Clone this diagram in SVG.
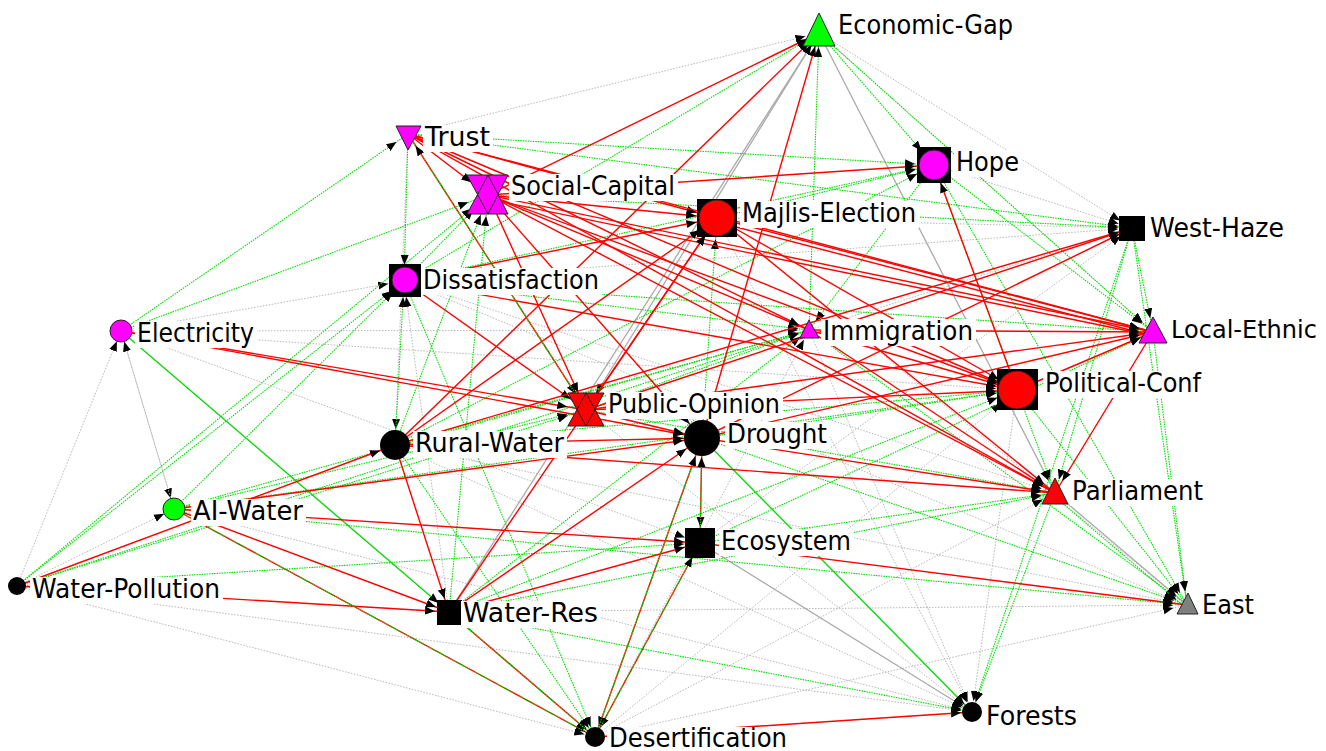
<svg xmlns="http://www.w3.org/2000/svg" width="1326" height="751" viewBox="0 0 1326 751">
<style>
.r{stroke:#f00;stroke-width:1.4;fill:none}
.g{stroke:#00e000;stroke-width:1.1;stroke-dasharray:1.5 1;fill:none}
.k{stroke:#b9b9b9;stroke-width:1;stroke-dasharray:1.5 1.5;fill:none}
.gs{stroke:#10d810;stroke-width:1.4;fill:none}
.ks{stroke:#aaa;stroke-width:1.3;fill:none}
.a10{marker-end:url(#a10)}.a13{marker-end:url(#a13)}.a15{marker-end:url(#a15)}.a18{marker-end:url(#a18)}.a20{marker-end:url(#a20)}
.sh{stroke:#222;stroke-width:1}
.ol{stroke:#222;stroke-width:1;fill:none}
.lb{fill:#fff}
text{font-family:"DejaVu Sans","Liberation Sans",sans-serif;font-size:26px;fill:#000}
</style>
<defs>
<marker id="a10" markerUnits="userSpaceOnUse" markerWidth="21" markerHeight="10" viewBox="0 0 21 10" refX="21" refY="5" orient="auto"><path d="M0,1 L10,5 L0,9z"/></marker>
<marker id="a13" markerUnits="userSpaceOnUse" markerWidth="24" markerHeight="10" viewBox="0 0 24 10" refX="24" refY="5" orient="auto"><path d="M0,1 L10,5 L0,9z"/></marker>
<marker id="a15" markerUnits="userSpaceOnUse" markerWidth="26" markerHeight="10" viewBox="0 0 26 10" refX="26" refY="5" orient="auto"><path d="M0,1 L10,5 L0,9z"/></marker>
<marker id="a18" markerUnits="userSpaceOnUse" markerWidth="29" markerHeight="10" viewBox="0 0 29 10" refX="29" refY="5" orient="auto"><path d="M0,1 L10,5 L0,9z"/></marker>
<marker id="a20" markerUnits="userSpaceOnUse" markerWidth="31" markerHeight="10" viewBox="0 0 31 10" refX="31" refY="5" orient="auto"><path d="M0,1 L10,5 L0,9z"/></marker>
</defs>
<rect width="1326" height="751" fill="#fff"/>
<g id="edges">
<line class="k a13" x1="408" y1="134" x2="819" y2="33"/>
<line class="k a13" x1="819" y1="33" x2="1132" y2="228"/>
<line class="k a13" x1="404" y1="281" x2="1132" y2="228"/>
<line class="k a15" x1="121" y1="331" x2="404" y2="281"/>
<line class="k a10" x1="121" y1="331" x2="809" y2="330"/>
<line class="k a15" x1="121" y1="331" x2="700" y2="543"/>
<line class="k a10" x1="121" y1="331" x2="174" y2="509"/>
<line class="k a10" x1="174" y1="509" x2="121" y2="331"/>
<line class="k a10" x1="17" y1="586" x2="121" y2="331"/>
<line class="k a10" x1="17" y1="586" x2="174" y2="509"/>
<line class="k a10" x1="17" y1="586" x2="595" y2="737"/>
<line class="k a10" x1="17" y1="586" x2="972" y2="712"/>
<line class="k a13" x1="595" y1="737" x2="1187" y2="605"/>
<line class="k a13" x1="595" y1="737" x2="1055" y2="493"/>
<line class="k a10" x1="395" y1="445" x2="972" y2="712"/>
<line class="k a13" x1="395" y1="445" x2="1187" y2="605"/>
<line class="k a13" x1="449" y1="612" x2="1187" y2="605"/>
<line class="k a10" x1="717" y1="218" x2="972" y2="712"/>
<line class="k a10" x1="586" y1="410" x2="972" y2="712"/>
<line class="k a10" x1="809" y1="330" x2="972" y2="712"/>
<line class="k a13" x1="717" y1="218" x2="1132" y2="228"/>
<line class="k a13" x1="809" y1="330" x2="1132" y2="228"/>
<line class="k a13" x1="404" y1="281" x2="1187" y2="605"/>
<line class="k a13" x1="700" y1="543" x2="1132" y2="228"/>
<line class="k a15" x1="408" y1="134" x2="395" y2="445"/>
<line class="k a13" x1="717" y1="218" x2="1187" y2="605"/>
<line class="k a13" x1="404" y1="281" x2="1055" y2="493"/>
<line class="k a20" x1="121" y1="331" x2="1017" y2="390"/>
<line class="k a13" x1="934" y1="165" x2="1132" y2="228"/>
<line class="k a10" x1="121" y1="331" x2="595" y2="737"/>
<line class="k a10" x1="174" y1="509" x2="972" y2="712"/>
<line class="k a10" x1="1017" y1="390" x2="972" y2="712"/>
<line class="k a10" x1="595" y1="737" x2="809" y2="330"/>
<line class="k a20" x1="595" y1="737" x2="1017" y2="390"/>
<line class="k a15" x1="449" y1="612" x2="404" y2="281"/>
<line class="k a13" x1="819" y1="33" x2="1153" y2="332"/>
<line class="ks a13" x1="819" y1="33" x2="1055" y2="493"/>
<line class="ks a18" x1="819" y1="33" x2="586" y2="410"/>
<line class="ks a13" x1="449" y1="612" x2="819" y2="33"/>
<line class="ks a13" x1="1055" y1="493" x2="1187" y2="605"/>
<line class="ks a10" x1="700" y1="543" x2="972" y2="712"/>
<line class="g a15" x1="408" y1="134" x2="404" y2="281"/>
<line class="g a18" x1="408" y1="134" x2="934" y2="165"/>
<line class="g a13" x1="408" y1="134" x2="1132" y2="228"/>
<line class="g a13" x1="121" y1="331" x2="408" y2="134"/>
<line class="g a13" x1="404" y1="281" x2="819" y2="33"/>
<line class="g a13" x1="809" y1="330" x2="819" y2="33"/>
<line class="g a18" x1="819" y1="33" x2="934" y2="165"/>
<line class="g a13" x1="819" y1="33" x2="1153" y2="332"/>
<line class="g a18" x1="404" y1="281" x2="934" y2="165"/>
<line class="g a10" x1="404" y1="281" x2="809" y2="330"/>
<line class="g a13" x1="404" y1="281" x2="1153" y2="332"/>
<line class="g a20" x1="404" y1="281" x2="488" y2="195"/>
<line class="g a20" x1="395" y1="445" x2="488" y2="195"/>
<line class="g a20" x1="449" y1="612" x2="488" y2="195"/>
<line class="g a15" x1="395" y1="445" x2="404" y2="281"/>
<line class="g a15" x1="17" y1="586" x2="404" y2="281"/>
<line class="g a20" x1="17" y1="586" x2="488" y2="195"/>
<line class="g a15" x1="174" y1="509" x2="404" y2="281"/>
<line class="g a10" x1="174" y1="509" x2="809" y2="330"/>
<line class="g a20" x1="174" y1="509" x2="1017" y2="390"/>
<line class="g a10" x1="17" y1="586" x2="809" y2="330"/>
<line class="g a10" x1="395" y1="445" x2="809" y2="330"/>
<line class="g a20" x1="395" y1="445" x2="1017" y2="390"/>
<line class="g a10" x1="586" y1="410" x2="809" y2="330"/>
<line class="g a10" x1="449" y1="612" x2="809" y2="330"/>
<line class="g a20" x1="449" y1="612" x2="1017" y2="390"/>
<line class="g a20" x1="702" y1="438" x2="717" y2="218"/>
<line class="g a13" x1="934" y1="165" x2="1153" y2="332"/>
<line class="g a13" x1="934" y1="165" x2="1055" y2="493"/>
<line class="g a13" x1="934" y1="165" x2="1187" y2="605"/>
<line class="g a10" x1="934" y1="165" x2="809" y2="330"/>
<line class="g a13" x1="1132" y1="228" x2="1153" y2="332"/>
<line class="g a13" x1="1132" y1="228" x2="1055" y2="493"/>
<line class="g a13" x1="1132" y1="228" x2="1187" y2="605"/>
<line class="g a10" x1="1132" y1="228" x2="972" y2="712"/>
<line class="g a13" x1="488" y1="195" x2="1132" y2="228"/>
<line class="g a18" x1="717" y1="218" x2="934" y2="165"/>
<line class="g a13" x1="1017" y1="390" x2="1187" y2="605"/>
<line class="g a13" x1="1153" y1="332" x2="1187" y2="605"/>
<line class="g a13" x1="702" y1="438" x2="1187" y2="605"/>
<line class="g a13" x1="809" y1="330" x2="1187" y2="605"/>
<line class="g a13" x1="174" y1="509" x2="1187" y2="605"/>
<line class="g a10" x1="395" y1="445" x2="595" y2="737"/>
<line class="g a10" x1="404" y1="281" x2="595" y2="737"/>
<line class="g a10" x1="449" y1="612" x2="972" y2="712"/>
<line class="g a10" x1="1055" y1="493" x2="972" y2="712"/>
<line class="g a13" x1="1055" y1="497" x2="1187" y2="609"/>
<line class="g a13" x1="700" y1="543" x2="1055" y2="493"/>
<line class="g a18" x1="17" y1="586" x2="586" y2="410"/>
<line class="g a18" x1="395" y1="445" x2="934" y2="165"/>
<line class="g a20" x1="702" y1="438" x2="1017" y2="390"/>
<line class="g a18" x1="174" y1="509" x2="586" y2="410"/>
<line class="g a20" x1="121" y1="331" x2="488" y2="195"/>
<line class="g a15" x1="17" y1="586" x2="700" y2="543"/>
<line class="g a13" x1="586" y1="410" x2="1055" y2="493"/>
<line class="g a13" x1="700" y1="543" x2="1153" y2="332"/>
<line class="g a13" x1="449" y1="612" x2="1055" y2="493"/>
<line class="gs a13" x1="121" y1="331" x2="449" y2="612"/>
<line class="gs a10" x1="702" y1="438" x2="972" y2="712"/>
<line class="r a13" x1="488" y1="195" x2="819" y2="33"/>
<line class="r a13" x1="395" y1="445" x2="819" y2="33"/>
<line class="r a13" x1="702" y1="438" x2="819" y2="33"/>
<line class="r a20" x1="408" y1="134" x2="488" y2="195"/>
<line class="r a20" x1="408" y1="134" x2="717" y2="218"/>
<line class="r a13" x1="408" y1="134" x2="1153" y2="332"/>
<line class="r a20" x1="408" y1="134" x2="1017" y2="390"/>
<line class="r a13" x1="408" y1="134" x2="1055" y2="493"/>
<line class="r a10" x1="408" y1="134" x2="809" y2="330"/>
<line class="r a18" x1="488" y1="195" x2="934" y2="165"/>
<line class="r a20" x1="488" y1="195" x2="717" y2="218"/>
<line class="r a13" x1="488" y1="195" x2="1153" y2="332"/>
<line class="r a13" x1="488" y1="199" x2="1153" y2="336"/>
<line class="r a20" x1="488" y1="195" x2="1017" y2="390"/>
<line class="r a13" x1="488" y1="195" x2="1055" y2="493"/>
<line class="r a10" x1="488" y1="195" x2="809" y2="330"/>
<line class="r a18" x1="488" y1="195" x2="702" y2="438"/>
<line class="r a18" x1="488" y1="195" x2="586" y2="410"/>
<line class="r a20" x1="404" y1="281" x2="717" y2="218"/>
<line class="r a20" x1="404" y1="281" x2="1017" y2="390"/>
<line class="r a18" x1="404" y1="281" x2="586" y2="410"/>
<line class="r a13" x1="717" y1="218" x2="1153" y2="332"/>
<line class="r a13" x1="717" y1="222" x2="1153" y2="336"/>
<line class="r a20" x1="717" y1="218" x2="1017" y2="390"/>
<line class="r a13" x1="717" y1="218" x2="1055" y2="493"/>
<line class="r a20" x1="586" y1="410" x2="717" y2="218"/>
<line class="r a20" x1="395" y1="445" x2="717" y2="218"/>
<line class="r a20" x1="449" y1="612" x2="717" y2="218"/>
<line class="r a13" x1="586" y1="410" x2="1132" y2="228"/>
<line class="r a13" x1="702" y1="438" x2="1132" y2="228"/>
<line class="r a13" x1="395" y1="445" x2="1132" y2="228"/>
<line class="r a13" x1="809" y1="330" x2="1153" y2="332"/>
<line class="r a20" x1="809" y1="330" x2="1017" y2="390"/>
<line class="r a13" x1="809" y1="330" x2="1055" y2="493"/>
<line class="r a13" x1="586" y1="410" x2="1153" y2="332"/>
<line class="r a20" x1="586" y1="410" x2="1017" y2="390"/>
<line class="r a13" x1="1017" y1="390" x2="1153" y2="332"/>
<line class="r a18" x1="1017" y1="390" x2="934" y2="165"/>
<line class="r a13" x1="1153" y1="332" x2="1055" y2="493"/>
<line class="r a18" x1="121" y1="331" x2="586" y2="410"/>
<line class="r a18" x1="121" y1="331" x2="702" y2="438"/>
<line class="r a18" x1="586" y1="410" x2="702" y2="438"/>
<line class="r a18" x1="395" y1="445" x2="702" y2="438"/>
<line class="r a18" x1="449" y1="612" x2="702" y2="438"/>
<line class="r a13" x1="702" y1="438" x2="1055" y2="493"/>
<line class="r a13" x1="395" y1="445" x2="1055" y2="493"/>
<line class="r a13" x1="174" y1="509" x2="449" y2="612"/>
<line class="r a15" x1="174" y1="509" x2="700" y2="543"/>
<line class="r a18" x1="174" y1="509" x2="702" y2="438"/>
<line class="r a15" x1="17" y1="586" x2="395" y2="445"/>
<line class="r a13" x1="17" y1="586" x2="449" y2="612"/>
<line class="r a13" x1="395" y1="445" x2="449" y2="612"/>
<line class="r a15" x1="449" y1="612" x2="700" y2="543"/>
<line class="r a13" x1="700" y1="543" x2="1187" y2="605"/>
<line class="r a10" x1="595" y1="737" x2="972" y2="712"/>
<line class="r a13" x1="702" y1="438" x2="1153" y2="332"/>
<line class="r a18" x1="408" y1="134" x2="586" y2="410"/>
<line class="g a13" x1="586" y1="410" x2="408" y2="134"/>
<line class="r a15" x1="702" y1="438" x2="700" y2="543"/>
<line class="g a18" x1="700" y1="543" x2="702" y2="438"/>
<line class="r a10" x1="174" y1="509" x2="595" y2="737"/>
<line class="g" x1="174" y1="509" x2="595" y2="737"/>
<line class="r a10" x1="449" y1="612" x2="595" y2="737"/>
<line class="g" x1="449" y1="612" x2="595" y2="737"/>
<line class="r a10" x1="700" y1="543" x2="595" y2="737"/>
<line class="g a15" x1="595" y1="737" x2="700" y2="543"/>
<line class="r a10" x1="702" y1="438" x2="595" y2="737"/>
<line class="g a18" x1="595" y1="737" x2="702" y2="438"/>
</g>
<g id="n-economic-gap"><polygon class="sh" points="819,13 803,46 835,46" fill="#0f0"/><rect class="lb" x="836" y="13" width="180" height="27"/><text x="838" y="34" textLength="175" lengthAdjust="spacingAndGlyphs">Economic-Gap</text></g>
<g id="n-trust"><polygon class="sh" points="396,126 421,126 408,150" fill="#f0f"/><rect class="lb" x="423" y="125" width="70" height="27"/><text x="425" y="146" textLength="65" lengthAdjust="spacingAndGlyphs">Trust</text></g>
<g id="n-social-capital"><polygon points="467,175 508,175 488,214" fill="#f0f"/><polygon points="467,214 508,214 488,175" fill="#f0f"/><polygon class="ol" points="467,175 508,175 488,214"/><polygon class="ol" points="467,214 508,214 488,175"/><rect class="lb" x="509" y="174" width="169" height="27"/><text x="511" y="195" textLength="164" lengthAdjust="spacingAndGlyphs">Social-Capital</text></g>
<g id="n-hope"><rect x="917" y="147" width="34" height="36" fill="#000"/><circle cx="934" cy="165" r="15" fill="#f0f" class="sh"/><rect class="lb" x="954" y="150" width="68" height="27"/><text x="956" y="171" textLength="63" lengthAdjust="spacingAndGlyphs">Hope</text></g>
<g id="n-majlis-election"><rect x="697" y="199" width="40" height="38" fill="#000"/><circle cx="717" cy="218" r="18" fill="#f00" class="sh"/><rect class="lb" x="740" y="201" width="179" height="27"/><text x="742" y="222" textLength="174" lengthAdjust="spacingAndGlyphs">Majlis-Election</text></g>
<g id="n-west-haze"><rect x="1119" y="216" width="26" height="25" fill="#000"/><rect class="lb" x="1148" y="216" width="139" height="27"/><text x="1150" y="237" textLength="134" lengthAdjust="spacingAndGlyphs">West-Haze</text></g>
<g id="n-dissatisfaction"><rect x="389" y="264" width="32" height="33" fill="#000"/><circle cx="405" cy="280" r="13" fill="#f0f" class="sh"/><rect class="lb" x="421" y="268" width="181" height="27"/><text x="423" y="289" textLength="176" lengthAdjust="spacingAndGlyphs">Dissatisfaction</text></g>
<g id="n-electricity"><circle cx="121" cy="331" r="11" fill="#f0f" class="sh"/><rect class="lb" x="135" y="321" width="122" height="27"/><text x="137" y="342" textLength="117" lengthAdjust="spacingAndGlyphs">Electricity</text></g>
<g id="n-immigration"><polygon class="sh" points="809,320 800,338 819,338" fill="#f0f"/><rect class="lb" x="821" y="319" width="155" height="27"/><text x="823" y="340" textLength="150" lengthAdjust="spacingAndGlyphs">Immigration</text></g>
<g id="n-local-ethnic"><polygon class="sh" points="1153,317 1139,343 1167,343" fill="#f0f"/><rect class="lb" x="1169" y="317" width="150" height="27"/><text x="1171" y="338" style="font-size:25px" textLength="146" lengthAdjust="spacingAndGlyphs">Local-Ethnic</text></g>
<g id="n-political-conf"><rect x="997" y="369" width="41" height="41" fill="#000"/><circle cx="1017" cy="390" r="19" fill="#f00" class="sh"/><rect class="lb" x="1043" y="371" width="161" height="27"/><text x="1045" y="392" textLength="156" lengthAdjust="spacingAndGlyphs">Political-Conf</text></g>
<g id="n-public-opinion"><polygon points="568,393 604,393 586,426" fill="#f00"/><polygon points="568,426 604,426 586,393" fill="#f00"/><polygon class="ol" points="568,393 604,393 586,426"/><polygon class="ol" points="568,426 604,426 586,393"/><rect class="lb" x="606" y="392" width="177" height="27"/><text x="608" y="413" textLength="172" lengthAdjust="spacingAndGlyphs">Public-Opinion</text></g>
<g id="n-drought"><circle cx="702" cy="438" r="18" fill="#000"/><rect class="lb" x="725" y="422" width="105" height="27"/><text x="727" y="443" textLength="100" lengthAdjust="spacingAndGlyphs">Drought</text></g>
<g id="n-rural-water"><circle cx="395" cy="445" r="15" fill="#000"/><rect class="lb" x="413" y="431" width="154" height="27"/><text x="415" y="452" textLength="149" lengthAdjust="spacingAndGlyphs">Rural-Water</text></g>
<g id="n-ai-water"><circle cx="174" cy="509" r="11" fill="#0f0" class="sh"/><rect class="lb" x="191" y="499" width="115" height="27"/><text x="193" y="520" textLength="110" lengthAdjust="spacingAndGlyphs">AI-Water</text></g>
<g id="n-parliament"><polygon class="sh" points="1055,478 1042,504 1068,504" fill="#f00"/><rect class="lb" x="1070" y="479" width="136" height="27"/><text x="1072" y="500" textLength="131" lengthAdjust="spacingAndGlyphs">Parliament</text></g>
<g id="n-ecosystem"><rect x="685" y="528" width="30" height="30" fill="#000"/><rect class="lb" x="719" y="529" width="135" height="27"/><text x="721" y="550" textLength="130" lengthAdjust="spacingAndGlyphs">Ecosystem</text></g>
<g id="n-water-pollution"><circle cx="17" cy="586" r="9" fill="#000"/><rect class="lb" x="30" y="577" width="193" height="27"/><text x="32" y="598" textLength="188" lengthAdjust="spacingAndGlyphs">Water-Pollution</text></g>
<g id="n-water-res"><rect x="437" y="600" width="25" height="25" fill="#000"/><rect class="lb" x="461" y="601" width="140" height="27"/><text x="463" y="622" textLength="135" lengthAdjust="spacingAndGlyphs">Water-Res</text></g>
<g id="n-east"><polygon class="sh" points="1188,593 1177,614 1198,614" fill="#808080"/><rect class="lb" x="1200" y="593" width="57" height="27"/><text x="1202" y="614" textLength="52" lengthAdjust="spacingAndGlyphs">East</text></g>
<g id="n-forests"><circle cx="972" cy="712" r="10" fill="#000"/><rect class="lb" x="984" y="704" width="96" height="27"/><text x="986" y="725" textLength="91" lengthAdjust="spacingAndGlyphs">Forests</text></g>
<g id="n-desertification"><circle cx="595" cy="737" r="10" fill="#000"/><rect class="lb" x="607" y="727" width="183" height="24"/><text x="609" y="747" textLength="178" lengthAdjust="spacingAndGlyphs">Desertification</text></g>
</svg>
